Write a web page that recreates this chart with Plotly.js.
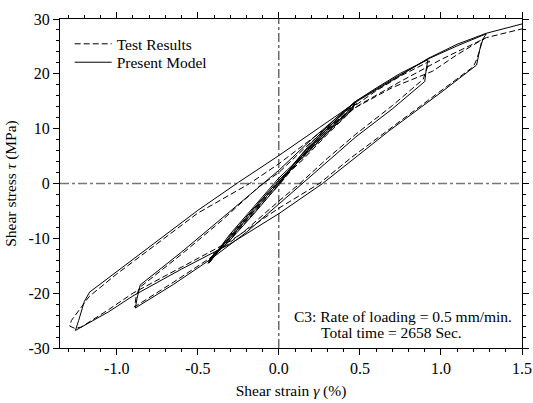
<!DOCTYPE html>
<html>
<head>
<meta charset="utf-8">
<script src="https://cdn.plot.ly/plotly-3.0.1.min.js"></script>
<style>html,body{margin:0;padding:0;background:#fff}#chart{width:533px;height:403px}</style>
</head>
<body>
<div id="chart"></div>
<script>
// Present Model (solid) – strain (%) and stress (MPa)
const modelStrain = [0,0.1,0.2,0.3,0.4,0.47,0.45,0.3,0.15,0,-0.15,-0.3,-0.43,-0.41,-0.3,-0.15,0,0.15,0.3,0.47,0.45,0.3,0.15,0,-0.15,-0.3,-0.43,-0.41,-0.3,-0.15,0,0.15,0.3,0.47,0.6,0.75,0.92,0.91,0.90,0.7,0.475,0.3,0.15,0,-0.2,-0.43,-0.65,-0.885,-0.875,-0.855,-0.6,-0.35,-0.1,0,0.2,0.47,0.7,0.92,1.1,1.28,1.26,1.24,1.22,1.0,0.68,0.45,0.27,0,-0.3,-0.6,-0.9,-1.05,-1.255,-1.235,-1.2,-1.167,-1.0,-0.5,-0.25,0,0.25,0.5,0.75,0.92,1.1,1.28,1.5];
const modelStress = [0,3.9,7.4,10.4,13.2,14.8,13.6,9.3,4.8,0.6,-4.4,-9.6,-14.5,-13.2,-9.9,-4.9,0.2,5.6,10.1,14.9,13.8,9.6,5.2,1.0,-4.0,-9.2,-14.3,-13.4,-10.3,-5.4,-0.2,5.3,10.0,14.9,17.4,20.1,22.6,21.0,18.6,13.6,8.5,4.0,0,-3.8,-8.9,-14.0,-18.4,-22.7,-21.0,-18.5,-12.5,-6.3,0,2.4,8.0,14.9,19.0,22.7,25.1,27.3,26.4,24.5,21.6,16.6,9.6,4.3,0,-5.5,-11.0,-15.6,-20.5,-23.4,-26.8,-25.0,-21.5,-19.8,-16.1,-4.9,0.2,5.1,10.2,15.3,19.7,22.8,25.4,27.4,29.1];

// Test Results (dashed)
const testStrain = [0,0.1,0.2,0.3,0.4,0.48,0.44,0.3,0.15,0,-0.15,-0.3,-0.44,-0.42,-0.3,-0.15,0,0.15,0.3,0.47,0.45,0.3,0.15,0,-0.15,-0.3,-0.43,-0.41,-0.3,-0.15,0,0.15,0.3,0.47,0.6,0.75,0.93,0.91,0.89,0.7,0.475,0.3,0.13,0,-0.2,-0.43,-0.65,-0.89,-0.88,-0.86,-0.6,-0.35,-0.12,0,0.2,0.47,0.7,0.95,1.1,1.27,1.25,1.24,1.22,1.2,1.0,0.68,0.45,0.25,0,-0.3,-0.6,-0.9,-1.05,-1.22,-1.26,-1.29,-1.28,-1.22,-1.17,-1.0,-0.5,-0.18,0,0.25,0.5,0.75,1.0,1.28,1.5];
const testStress = [0,3.6,7.0,10.0,12.9,14.6,13.0,9.0,4.4,0.3,-4.6,-9.8,-14.8,-13.5,-10.2,-5.2,-0.3,5.0,9.7,14.5,13.4,9.2,4.8,0.6,-4.3,-9.4,-14.2,-13.0,-10.0,-5.0,0.1,5.0,9.6,14.2,16.9,19.6,22.3,20.6,19.0,14.2,9.0,4.6,0,-3.2,-8.4,-13.7,-18.0,-22.5,-20.6,-19.0,-12.9,-6.7,-0.5,2.0,7.6,13.8,17.5,20.5,23.5,26.5,25.8,24.4,22.6,21.3,16.9,9.9,4.8,0,-4.5,-10.5,-15.2,-20.0,-23.0,-26.2,-26.4,-26.0,-25.0,-22.5,-20.6,-16.5,-5.4,0,3.6,9.2,14.4,18.6,22.6,26.6,28.2];

const xTickVals = [-1.0,-0.5,0.0,0.5,1.0,1.5];
const xTickText = ["-1.0","-0.5","0.0","0.5","1.0","1.5"];
const yTickVals = [-30,-20,-10,0,10,20,30];
const yTickText = ["-30","-20","-10","0","10","20","30"];

const FONT = "Liberation Serif, Times New Roman, serif";

const traces = [
  {x: testStrain, y: testStress, mode: "lines", name: "Test Results", legend: "legend",
   line: {color: "#000", width: 1, dash: "6px,3px"}},
  {x: modelStrain, y: modelStress, mode: "lines", name: "Present Model", legend: "legend2",
   line: {color: "#000", width: 1}}
];

const axisCommon = {
  showgrid: false, zeroline: false, showline: true, linecolor: "#000", linewidth: 1,
  mirror: "allticks", ticks: "outside", ticklen: 6, tickcolor: "#000", tickwidth: 1,
  tickfont: {family: FONT, size: 16, color: "#000"}, tickmode: "array"
};

const legendCommon = {xanchor: "left", yanchor: "top", bgcolor: "rgba(0,0,0,0)",
  font: {family: FONT, size: 15.5, color: "#000"}, itemwidth: 37};

const layout = {
  width: 533, height: 403,
  margin: {l: 60, r: 11, t: 19, b: 55},
  paper_bgcolor: "#fff", plot_bgcolor: "#fff",
  font: {family: FONT, size: 15.5, color: "#000"},
  showlegend: true,
  legend: Object.assign({x: 0.021, y: 0.975}, legendCommon),
  legend2: Object.assign({x: 0.021, y: 0.919}, legendCommon),
  xaxis: Object.assign({}, axisCommon, {
    range: [-1.35, 1.5], tickvals: xTickVals, ticktext: xTickText,
    minor: {dtick: 0.1, tick0: 0, ticks: "outside", ticklen: 3, tickcolor: "#000"},
    title: {text: "Shear strain <i>γ</i> (%)", font: {family: FONT, size: 15.5, color: "#000"}, standoff: 8}
  }),
  yaxis: Object.assign({}, axisCommon, {
    range: [-30, 30], tickvals: yTickVals, ticktext: yTickText,
    minor: {dtick: 2, tick0: 0, ticks: "outside", ticklen: 3, tickcolor: "#000"},
    title: {text: "Shear stress <i>τ</i> (MPa)", font: {family: FONT, size: 15.5, color: "#000"}, standoff: 8}
  }),
  shapes: [
    {type: "line", xref: "paper", yref: "y", x0: 0, x1: 1, y0: 0, y1: 0, layer: "below",
     line: {color: "#777", width: 1.3, dash: "dashdot"}},
    {type: "line", xref: "x", yref: "paper", x0: 0, x1: 0, y0: 0, y1: 1, layer: "below",
     line: {color: "#222", width: 1, dash: "dashdot"}}
  ],
  annotations: [
    {xref: "paper", yref: "paper", x: 0.502, y: 0.096, xanchor: "left", yanchor: "middle", showarrow: false,
     text: "C3: Rate of loading = 0.5 mm/min.", font: {family: FONT, size: 15.5, color: "#000"}},
    {xref: "paper", yref: "paper", x: 0.56, y: 0.046, xanchor: "left", yanchor: "middle", showarrow: false,
     text: "Total time = 2658 Sec.", font: {family: FONT, size: 15.5, color: "#000"}}
  ]
};

Plotly.newPlot("chart", traces, layout, {displayModeBar: false, staticPlot: true});
</script>
</body>
</html>
